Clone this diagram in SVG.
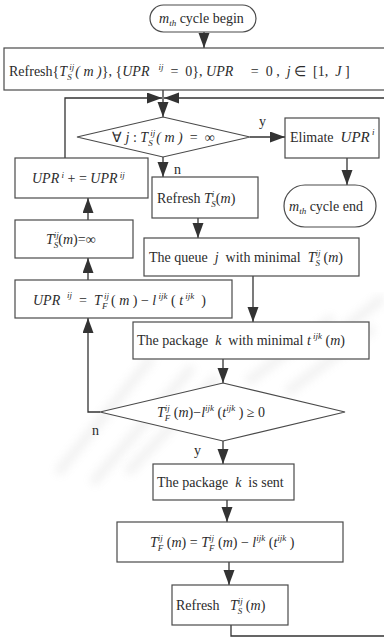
<svg xmlns="http://www.w3.org/2000/svg" width="384" height="640" viewBox="0 0 384 640">
  <style>
    .box { fill: #ffffff; stroke: #4a4a4a; stroke-width: 1.2; }
    .line { fill: none; stroke: #333333; stroke-width: 1.3; }
    .arrow { fill: none; stroke: #333333; stroke-width: 1.3; marker-end: url(#head); }
    text { font-family: "Liberation Serif", "Times New Roman", serif; font-size: 14px; fill: #2b2b2b; white-space: pre; }
    .it { font-style: italic; }
    .s { font-size: 9px; font-style: italic; }
    .lbl { font-size: 14px; }
    .haze { fill: none; stroke: #9a9a9a; stroke-width: 10; stroke-linecap: round; opacity: 0.12; filter: url(#soft); }
  </style>
  <defs>
    <marker id="head" markerUnits="userSpaceOnUse" markerWidth="16" markerHeight="12" refX="15" refY="5.5" orient="auto">
      <path d="M0,0 L15,5.5 L0,11 z" fill="#333333"/>
    </marker>
    <filter id="soft" x="-20%" y="-20%" width="140%" height="140%">
      <feGaussianBlur stdDeviation="4"/>
    </filter>
  </defs>

  <!-- faint background watermark strokes -->
  <g id="watermark">
    <path class="haze" d="M60,470 L150,360"/>
    <path class="haze" d="M95,480 L190,370"/>
    <path class="haze" d="M130,470 L215,380"/>
    <path class="haze" d="M250,380 L330,320"/>
    <path class="haze" d="M290,390 L370,330"/>
    <path class="haze" d="M330,340 L380,300"/>
  </g>

  <!-- connectors -->
  <g id="connectors">
    <path class="arrow" d="M204,32 L204,48"/>
    <path class="line" d="M163,90 L163,98"/>
    <path class="arrow" d="M163,98 L163,117"/>
    <path class="arrow" d="M65,158 L65,98 L162,98"/>
    <path class="arrow" d="M384,98 L164,98"/>
    <path class="line" d="M231,625 L231,636 L384,636"/>
    <path class="arrow" d="M250,137 L285,137"/>
    <path class="arrow" d="M347,158 L347,185"/>
    <path class="arrow" d="M163,157 L163,177"/>
    <path class="arrow" d="M198,218 L198,238"/>
    <path class="arrow" d="M253,276 L253,322"/>
    <path class="arrow" d="M223,359 L223,383"/>
    <path class="arrow" d="M223,441 L223,464"/>
    <path class="arrow" d="M227,500 L227,522"/>
    <path class="arrow" d="M229,562 L229,585"/>
    <path class="arrow" d="M100,412 L88,412 L88,318"/>
    <path class="arrow" d="M88,280 L88,258"/>
    <path class="arrow" d="M88,220 L88,198"/>
    <text class="lbl" x="259" y="126">y</text>
    <text class="lbl" x="174" y="174">n</text>
    <text class="lbl" x="92" y="435">n</text>
    <text class="lbl" x="194" y="455">y</text>
  </g>

  <!-- cycle start -->
  <g id="begin">
    <rect class="box" x="150" y="5" width="106" height="27" rx="13.5"/>
    <text x="159" y="23" font-size="15"><tspan class="it">m</tspan><tspan class="s" dy="3">th</tspan><tspan dy="-3"> cycle begin</tspan></text>
  </g>

  <!-- initial refresh -->
  <g id="init">
    <rect class="box" x="4" y="48" width="390" height="42"/>
    <text x="9" y="76">Refresh{<tspan class="it">T</tspan><tspan class="s" dy="-6"> ij</tspan><tspan class="s" dx="-7" dy="10">S</tspan><tspan dy="-4" class="it"> ( m )</tspan>}, {<tspan class="it">UPR</tspan><tspan class="s" dy="-6">    ij</tspan><tspan dy="6">  =  0</tspan>}, <tspan class="it">UPR</tspan>     =  0 ,  <tspan class="it">j</tspan> ∈  [1,  <tspan class="it">J</tspan> ]</text>
  </g>

  <!-- decision: all queues exhausted -->
  <g id="check-all">
    <polygon class="box" points="163,117 250,137 163,157 77,137"/>
    <text x="112" y="142" font-size="13">∀ <tspan class="it">j</tspan> : <tspan class="it">T</tspan><tspan class="s" dy="-6"> ij</tspan><tspan class="s" dx="-7" dy="10">S</tspan><tspan dy="-4" class="it"> ( m )</tspan>  =  ∞</text>
  </g>

  <g id="eliminate">
    <rect class="box" x="285" y="118" width="94" height="40"/>
    <text x="290" y="142">Elimate  <tspan class="it" font-size="15">UPR</tspan><tspan class="s" dy="-7"> i</tspan></text>
  </g>

  <g id="end">
    <rect class="box" x="284" y="185" width="92" height="42" rx="21"/>
    <text x="289" y="211"><tspan class="it">m</tspan><tspan class="s" dy="3">th</tspan><tspan dy="-3"> cycle end</tspan></text>
  </g>

  <g id="refresh-i">
    <rect class="box" x="152" y="177" width="106" height="41"/>
    <text x="157" y="203">Refresh <tspan class="it">T</tspan><tspan class="s" dy="-6">i</tspan><tspan class="s" dx="-3" dy="10">S</tspan><tspan dy="-4">(<tspan class="it">m</tspan>)</tspan></text>
  </g>

  <g id="accumulate">
    <rect class="box" x="15" y="158" width="133" height="40"/>
    <text x="32" y="183" font-size="12"><tspan class="it">UPR</tspan><tspan class="s" dy="-5"> i</tspan><tspan dy="5"> + = </tspan><tspan class="it">UPR</tspan><tspan class="s" dy="-5"> ij</tspan></text>
  </g>

  <g id="set-inf">
    <rect class="box" x="15" y="220" width="118" height="38"/>
    <text x="46" y="244"><tspan class="it">T</tspan><tspan class="s" dy="-6">ij</tspan><tspan class="s" dx="-5" dy="10">S</tspan><tspan dy="-4">(<tspan class="it">m</tspan>)=∞</tspan></text>
  </g>

  <g id="queue">
    <rect class="box" x="144" y="238" width="215" height="38"/>
    <text x="149" y="262" font-size="14.5">The queue  <tspan class="it">j</tspan>  with minimal  <tspan class="it">T</tspan><tspan class="s" dy="-6">ij</tspan><tspan class="s" dx="-5" dy="10">S</tspan><tspan dy="-4"> (<tspan class="it">m</tspan>)</tspan></text>
  </g>

  <g id="upr-ij">
    <rect class="box" x="15" y="280" width="217" height="38"/>
    <text x="33" y="305" font-size="15"><tspan class="it">UPR</tspan><tspan class="s" dy="-7">   ij</tspan><tspan dy="7">  =  </tspan><tspan class="it">T</tspan><tspan class="s" dy="-6"> ij</tspan><tspan class="s" dx="-7" dy="10">F</tspan><tspan dy="-4"> ( <tspan class="it">m</tspan> ) − <tspan class="it">l</tspan></tspan><tspan class="s" dy="-6"> ijk</tspan><tspan dy="6"> ( <tspan class="it">t</tspan></tspan><tspan class="s" dy="-6"> ijk</tspan><tspan dy="6">  )</tspan></text>
  </g>

  <g id="package">
    <rect class="box" x="133" y="322" width="236" height="37"/>
    <text x="137" y="345" font-size="14.5">The package  <tspan class="it">k</tspan>  with minimal <tspan class="it">t</tspan><tspan class="s" dy="-6"> ijk</tspan><tspan dy="6"> (<tspan class="it">m</tspan>)</tspan></text>
  </g>

  <!-- decision: enough forwarding time -->
  <g id="check-time">
    <polygon class="box" points="223,383 345,412 223,441 100,412"/>
    <text x="157" y="417" font-size="13"><tspan class="it">T</tspan><tspan class="s" dy="-6">ij</tspan><tspan class="s" dx="-5" dy="10">F</tspan><tspan dy="-4"> (<tspan class="it">m</tspan>)−<tspan class="it">l</tspan></tspan><tspan class="s" dy="-6">ijk</tspan><tspan dy="6"> (<tspan class="it">t</tspan></tspan><tspan class="s" dy="-6">ijk</tspan><tspan dy="6"> ) ≥ 0</tspan></text>
  </g>

  <g id="sent">
    <rect class="box" x="153" y="464" width="141" height="36"/>
    <text x="157" y="487">The package  <tspan class="it">k</tspan>  is sent</text>
  </g>

  <g id="update-f">
    <rect class="box" x="117" y="522" width="226" height="40"/>
    <text x="150" y="547"><tspan class="it">T</tspan><tspan class="s" dy="-6">ij</tspan><tspan class="s" dx="-5" dy="10">F</tspan><tspan dy="-4"> (<tspan class="it">m</tspan>) = <tspan class="it">T</tspan></tspan><tspan class="s" dy="-6">ij</tspan><tspan class="s" dx="-5" dy="10">F</tspan><tspan dy="-4"> (<tspan class="it">m</tspan>) − <tspan class="it">l</tspan></tspan><tspan class="s" dy="-6">ijk</tspan><tspan dy="6"> (<tspan class="it">t</tspan></tspan><tspan class="s" dy="-6">ijk</tspan><tspan dy="6"> )</tspan></text>
  </g>

  <g id="refresh-ij">
    <rect class="box" x="172" y="585" width="116" height="40"/>
    <text x="176" y="610">Refresh   <tspan class="it">T</tspan><tspan class="s" dy="-6">ij</tspan><tspan class="s" dx="-5" dy="10">S</tspan><tspan dy="-4"> (<tspan class="it">m</tspan>)</tspan></text>
  </g>
</svg>
